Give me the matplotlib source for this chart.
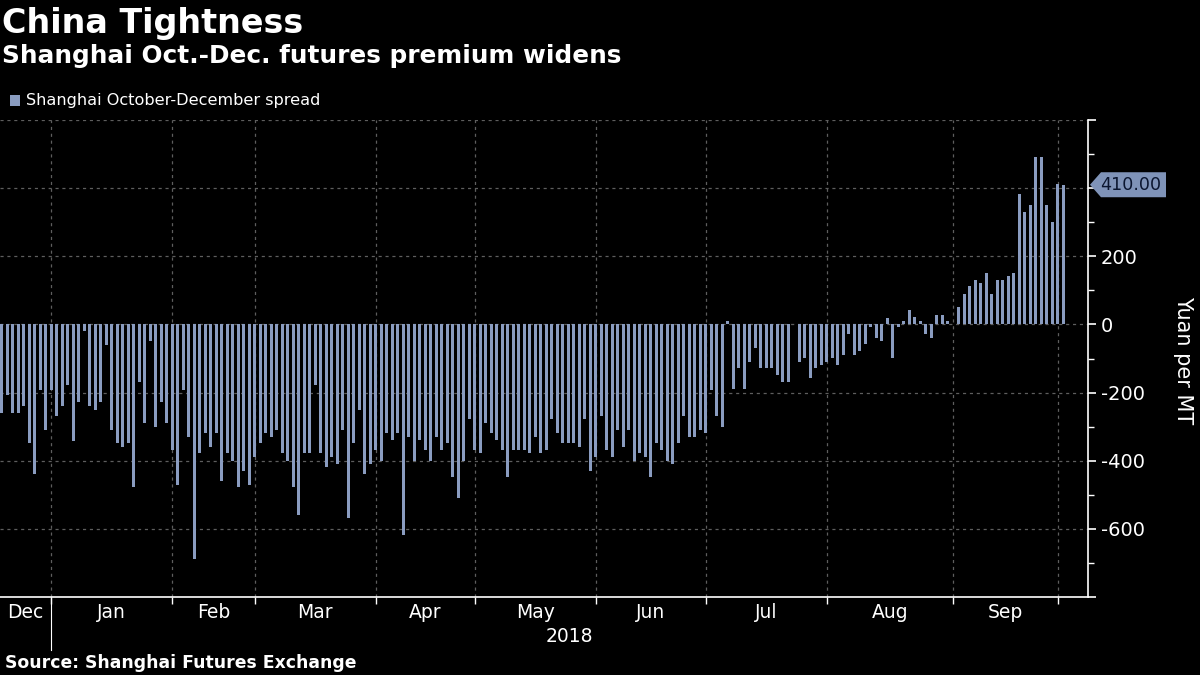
import numpy as np
import pandas as pd
import matplotlib
matplotlib.use("Agg")
import matplotlib.pyplot as plt
from matplotlib.patches import Polygon, Rectangle
from matplotlib.lines import Line2D
import matplotlib.transforms as mtransforms

# ---------------- data ----------------
start_date = "2017-12-19"
end_date = "2018-10-09"
holidays = ["2018-01-01", "2018-02-15", "2018-02-16", "2018-02-19", "2018-02-20",
            "2018-02-21", "2018-04-05", "2018-04-06", "2018-04-30", "2018-05-01",
            "2018-06-18", "2018-09-24", "2018-10-01", "2018-10-02", "2018-10-03",
            "2018-10-04", "2018-10-05"]

spread = [
    # Dec 2017
    -260, -208, -260, -260, -240, -349, -440, -191, -311,
    # Jan 2018
    -191, -270, -240, -179, -341, -228, -20, -240, -250, -228, -59,
    -311, -349, -360, -349, -478, -170, -290, -49, -300, -228, -290,
    # Feb
    -368, -470, -191, -329, -688, -378, -319, -360, -319, -460, -378,
    -400, -478, -429, -470,
    # Mar
    -390, -349, -319, -329, -311, -378, -400, -478, -559, -378, -378,
    -179, -378, -419, -390, -409, -311, -569, -349, -250, -440, -409,
    # Apr
    -368, -400, -319, -339, -319, -618, -329, -400, -339, -368, -400,
    -329, -368, -349, -448, -510, -400, -279,
    # May
    -368, -378, -290, -319, -339, -368, -448, -368, -368, -368, -378,
    -329, -378, -368, -279, -319, -349, -349, -349, -360, -279, -429,
    # Jun
    -390, -270, -368, -390, -311, -360, -311, -400, -378, -390, -448,
    -349, -368, -400, -409, -349, -270, -329, -329, -311,
    # Jul
    -319, -191, -270, -300, 9, -190, -128, -190, -109, -70, -128,
    -128, -128, -148, -169, -169, 0, -109, -99, -158, -128, -118,
    # Aug
    -109, -99, -118, -89, -27, -89, -79, -57, -8, -39, -50,
    20, -99, -8, 9, 41, 21, 9, -29, -40, 29, 29, 9,
    # Sep
    0, 51, 90, 113, 129, 122, 151, 90, 129, 129, 141,
    151, 384, 330, 350, 492, 492, 350, 301,
    # Oct
    412, 410,
]

last_value = 410.00
y_major = [-800, -600, -400, -200, 0, 200, 400, 600]
y_labels = ["", "-600", "-400", "-200", "0", "200", "", ""]
month_names = ["Dec", "Jan", "Feb", "Mar", "Apr", "May", "Jun", "Jul", "Aug", "Sep"]
year_label = "2018"

# ---------------- build ----------------
bday = pd.offsets.CustomBusinessDay(holidays=holidays)
dates = pd.date_range(start_date, end_date, freq=bday)
n = min(len(dates), len(spread))
dates = dates[:n]
vals = np.array(spread[:n], dtype=float)
idx = np.arange(n)

BG = "black"
BAR = "#8a9cc0"
GRID = "#5e5e5e"

W, H = 1200, 675
fig = plt.figure(figsize=(12, 6.75), dpi=100, facecolor=BG)
ax = fig.add_axes([0.0, 1 - 597 / H, 1088 / W, (597 - 120) / H], facecolor=BG)

ax.bar(idx, vals, width=0.5, color=BAR, zorder=3, linewidth=0)

ax.set_xlim(-0.33, 197.5)
ax.set_ylim(-800, 600)

# month boundaries (first trading day of each month)
months = pd.Series(dates.to_period("M"))
first_idx = [i for i in range(1, n) if months[i] != months[i - 1]]
for b in first_idx:
    ax.axvline(b, color=GRID, lw=0.9, ls=(0, (2.5, 3)), zorder=1)
for yv in y_major[1:]:
    ax.axhline(yv, color=GRID, lw=0.9, ls=(0, (2.5, 3)), zorder=1)

# spines
for s in ["left", "top"]:
    ax.spines[s].set_visible(False)
ax.spines["bottom"].set_color("white")
ax.spines["bottom"].set_linewidth(1.2)
ax.spines["right"].set_color("white")
ax.spines["right"].set_linewidth(1.2)

# x ticks
ax.set_xticks(first_idx)
ax.set_xticklabels([])
ax.tick_params(axis="x", colors="white", length=5, width=1, direction="out")

bounds = [ax.get_xlim()[0]] + first_idx
xtr = mtransforms.blended_transform_factory(ax.transData, ax.transAxes)
for k, name in enumerate(month_names):
    x0 = bounds[k]
    x1 = bounds[k + 1]
    ax.text((x0 + x1) / 2, -16 / 477, name, transform=xtr, color="white",
            fontsize=13.5, ha="center", va="center")
ax.text((first_idx[0] + ax.get_xlim()[1]) / 2, -40 / 477, year_label, transform=xtr,
        color="white", fontsize=13.5, ha="center", va="center")
ax.add_line(Line2D([first_idx[0], first_idx[0]], [0, -53 / 477], transform=xtr,
                   color="white", lw=0.8, clip_on=False))

# y axis on right
ax.yaxis.tick_right()
ax.set_yticks(y_major)
ax.set_yticklabels(y_labels)
ax.set_yticks(np.arange(-800, 601, 100), minor=True)
ax.tick_params(axis="y", which="major", colors="white", length=6, width=1.2,
               labelsize=14, pad=3)
ax.tick_params(axis="y", which="minor", colors="white", length=4, width=1)
ax.tick_params(axis="y", which="both", right=True, left=False)

fig.text(1183 / W, 1 - 360 / H, "Yuan per MT", rotation=270, color="white",
         fontsize=15, ha="center", va="center")

# last value tag
fig.canvas.draw()
yd = ax.transData.transform((0, last_value))[1]
xd = ax.transAxes.transform((1, 0))[0]
tag = Polygon([(xd + 2, yd), (xd + 13, yd + 12.5), (xd + 78, yd + 12.5),
               (xd + 78, yd - 12.5), (xd + 13, yd - 12.5)], closed=True,
              transform=None, facecolor="#7f93b8", edgecolor="none", zorder=1)
fig.patches.append(tag)
fig.text((xd + 12) / W, yd / H, f"{last_value:.2f}", color="#0b1630",
         fontsize=12.6, ha="left", va="center", zorder=10)

# titles
fig.text(2 / W, 1 - 7 / H, "China Tightness", color="white", fontsize=24,
         fontweight="bold", ha="left", va="top")
fig.text(2 / W, 1 - 44 / H, "Shanghai Oct.-Dec. futures premium widens", color="white",
         fontsize=17.8, fontweight="bold", ha="left", va="top")
# legend
fig.patches.append(Rectangle((10 / W, 1 - 106 / H), 10 / W, 11 / H,
                             transform=fig.transFigure, facecolor=BAR, edgecolor="none"))
fig.text(26 / W, 1 - 100 / H, "Shanghai October-December spread", color="white",
         fontsize=11.6, ha="left", va="center")
# source
fig.text(5 / W, 1 - 663 / H, "Source: Shanghai Futures Exchange", color="white",
         fontsize=12.4, fontweight="bold", ha="left", va="center")

fig.savefig("out.png", dpi=100, facecolor=BG)
